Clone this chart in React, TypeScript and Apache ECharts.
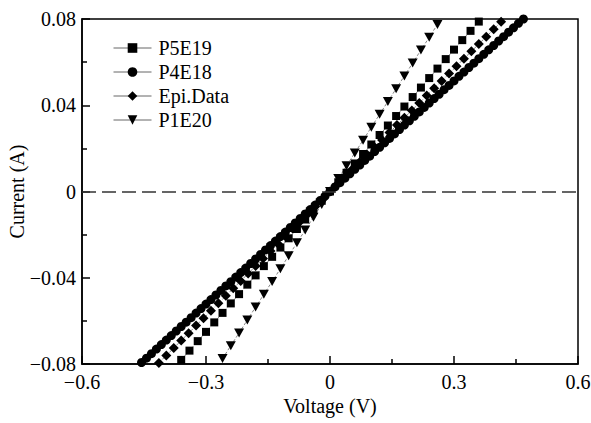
import { useEffect, useRef } from 'react';
import * as echarts from 'echarts';

const seriesNames = ['P5E19', 'P4E18', 'Epi.Data', 'P1E20'];

const xTicks = [-0.6, -0.3, 0, 0.3, 0.6];
const yTicks = [-0.08, -0.04, 0, 0.04, 0.08];

const p5e19V = [-0.36, -0.34, -0.32, -0.3, -0.28, -0.26, -0.24, -0.22, -0.2, -0.18, -0.16, -0.14, -0.12, -0.1, -0.08, -0.06, -0.04, -0.02, 0, 0.02, 0.04, 0.06, 0.08, 0.1, 0.12, 0.14, 0.16, 0.18, 0.2, 0.22, 0.24, 0.26, 0.28, 0.3, 0.32, 0.34, 0.36];
const p5e19I = [-0.0781, -0.0738, -0.0694, -0.0651, -0.0607, -0.0563, -0.0519, -0.0476, -0.0432, -0.0389, -0.0346, -0.0303, -0.026, -0.0217, -0.0174, -0.013, -0.0087, -0.0043, 0, 0.0043, 0.0087, 0.013, 0.0174, 0.0218, 0.0262, 0.0306, 0.035, 0.0394, 0.0438, 0.0482, 0.0526, 0.057, 0.0614, 0.0658, 0.0702, 0.0745, 0.0788];

const p4e18V = [-0.456, -0.444, -0.432, -0.42, -0.408, -0.396, -0.384, -0.372, -0.36, -0.348, -0.336, -0.324, -0.312, -0.3, -0.288, -0.276, -0.264, -0.252, -0.24, -0.228, -0.216, -0.204, -0.192, -0.18, -0.168, -0.156, -0.144, -0.132, -0.12, -0.108, -0.096, -0.084, -0.072, -0.06, -0.048, -0.036, -0.024, -0.012, 0, 0.012, 0.024, 0.036, 0.048, 0.06, 0.072, 0.084, 0.096, 0.108, 0.12, 0.132, 0.144, 0.156, 0.168, 0.18, 0.192, 0.204, 0.216, 0.228, 0.24, 0.252, 0.264, 0.276, 0.288, 0.3, 0.312, 0.324, 0.336, 0.348, 0.36, 0.372, 0.384, 0.396, 0.408, 0.42, 0.432, 0.444, 0.456, 0.468];
const p4e18I = [-0.0793, -0.0773, -0.0752, -0.0731, -0.071, -0.0689, -0.0668, -0.0647, -0.0626, -0.0606, -0.0585, -0.0564, -0.0543, -0.0522, -0.0501, -0.048, -0.0459, -0.0438, -0.0418, -0.0397, -0.0376, -0.0355, -0.0334, -0.0313, -0.0292, -0.0271, -0.0251, -0.023, -0.0209, -0.0188, -0.0167, -0.0146, -0.0125, -0.0104, -0.0084, -0.0063, -0.0042, -0.0021, 0, 0.0021, 0.0041, 0.0062, 0.0082, 0.0103, 0.0123, 0.0144, 0.0164, 0.0185, 0.0205, 0.0226, 0.0246, 0.0267, 0.0287, 0.0308, 0.0328, 0.0349, 0.0369, 0.039, 0.041, 0.0431, 0.0451, 0.0472, 0.0492, 0.0513, 0.0534, 0.0554, 0.0575, 0.0595, 0.0616, 0.0636, 0.0657, 0.0677, 0.0698, 0.0718, 0.0739, 0.0759, 0.078, 0.08];

const epiV = [-0.414, -0.396, -0.378, -0.36, -0.342, -0.324, -0.306, -0.288, -0.27, -0.252, -0.234, -0.216, -0.198, -0.18, -0.162, -0.144, -0.126, -0.108, -0.09, -0.072, -0.054, -0.036, -0.018, 0, 0.018, 0.036, 0.054, 0.072, 0.09, 0.108, 0.126, 0.144, 0.162, 0.18, 0.198, 0.216, 0.234, 0.252, 0.27, 0.288, 0.306, 0.324, 0.342, 0.36, 0.378, 0.396, 0.414];
const epiI = [-0.0795, -0.076, -0.0726, -0.0691, -0.0657, -0.0622, -0.0588, -0.0553, -0.0518, -0.0484, -0.0449, -0.0415, -0.038, -0.0346, -0.0311, -0.0276, -0.0242, -0.0207, -0.0173, -0.0138, -0.0104, -0.0069, -0.0035, 0, 0.0034, 0.0068, 0.0103, 0.0137, 0.0171, 0.0205, 0.0239, 0.0274, 0.0308, 0.0342, 0.0376, 0.041, 0.0445, 0.0479, 0.0513, 0.0547, 0.0581, 0.0616, 0.065, 0.0684, 0.0718, 0.0752, 0.0787];

const p1e20V = [-0.26, -0.24, -0.22, -0.2, -0.18, -0.16, -0.14, -0.12, -0.1, -0.08, -0.06, -0.04, -0.02, 0, 0.02, 0.04, 0.06, 0.08, 0.1, 0.12, 0.14, 0.16, 0.18, 0.2, 0.22, 0.24, 0.26];
const p1e20I = [-0.0775, -0.0715, -0.0656, -0.0596, -0.0536, -0.0477, -0.0417, -0.0358, -0.0298, -0.0238, -0.0179, -0.0119, -0.006, 0, 0.006, 0.0119, 0.0179, 0.0238, 0.0298, 0.0358, 0.0417, 0.0477, 0.0536, 0.0596, 0.0656, 0.0715, 0.0775];

const zip = (xs: number[], ys: number[]) => xs.map((x, i) => [x, ys[i]]);

const FONT = "'Liberation Serif', 'Times New Roman', serif";

const fmt = (digits: number) => (v: number) => {
  if (Math.abs(v) < 1e-9) return '0';
  return (v < 0 ? '\u2212' : '') + Math.abs(v).toFixed(digits);
};

export default function App() {
  const ref = useRef<HTMLDivElement>(null);
  useEffect(() => {
    const chart = echarts.init(ref.current!, null, { renderer: 'svg' });
    const common = {
      type: 'line',
      clip: true,
      lineStyle: { color: '#666', width: 0.8, type: [3, 2] },
      itemStyle: { color: '#000' },
      emphasis: { disabled: true },
    };
    chart.setOption({
      animation: false,
      backgroundColor: '#fff',
      grid: {
        left: 82,
        right: 13,
        top: 19,
        bottom: 59,
        containLabel: false,
        outerBoundsMode: 'none',
        show: true,
        borderColor: '#000',
        borderWidth: 1.5,
        backgroundColor: 'transparent',
      },
      legend: {
        orient: 'vertical',
        left: 108,
        top: 33,
        itemWidth: 38,
        itemHeight: 12,
        itemGap: 4,
        data: seriesNames,
        lineStyle: { type: 'solid', width: 1 },
        textStyle: { fontFamily: FONT, fontSize: 20, color: '#000', padding: [0, 0, 0, 2] },
      },
      xAxis: {
        type: 'value',
        min: xTicks[0],
        max: xTicks[xTicks.length - 1],
        interval: 0.3,
        name: 'Voltage (V)',
        nameLocation: 'middle',
        nameGap: 32,
        nameMoveOverlap: false,
        nameTextStyle: { fontFamily: FONT, fontSize: 20, color: '#000' },
        axisLine: { onZero: false, lineStyle: { color: '#000', width: 1.5 } },
        axisTick: { inside: true, length: 8, lineStyle: { color: '#000', width: 1.5 } },
        minorTick: { show: true, splitNumber: 2, length: 5, lineStyle: { color: '#000', width: 1.5 } },
        splitLine: { show: false },
        axisLabel: { fontFamily: FONT, fontSize: 20, color: '#000', margin: 8, formatter: fmt(1) },
      },
      yAxis: {
        type: 'value',
        min: yTicks[0],
        max: yTicks[yTicks.length - 1],
        interval: 0.04,
        name: 'Current (A)',
        nameLocation: 'middle',
        nameGap: 55,
        nameMoveOverlap: false,
        nameTextStyle: { fontFamily: FONT, fontSize: 20, color: '#000' },
        axisLine: { onZero: false, lineStyle: { color: '#000', width: 1.5 } },
        axisTick: { inside: true, length: 8, lineStyle: { color: '#000', width: 1.5 } },
        minorTick: { show: true, splitNumber: 2, length: 5, lineStyle: { color: '#000', width: 1.5 } },
        splitLine: { show: false },
        axisLabel: { fontFamily: FONT, fontSize: 20, color: '#000', margin: 6, formatter: fmt(2) },
      },
      series: [
        {
          ...common,
          name: seriesNames[0],
          symbol: 'rect',
          symbolSize: 8,
          data: zip(p5e19V, p5e19I),
          markLine: {
            silent: true,
            symbol: ['none', 'none'],
            label: { show: false },
            lineStyle: { color: '#333', width: 1.5, type: [14, 6] },
            data: [{ yAxis: 0 }],
          },
        },
        {
          ...common,
          name: seriesNames[1],
          symbol: 'circle',
          symbolSize: 9,
          data: zip(p4e18V, p4e18I),
        },
        {
          ...common,
          name: seriesNames[2],
          symbol: 'diamond',
          symbolSize: 10,
          data: zip(epiV, epiI),
        },
        {
          ...common,
          name: seriesNames[3],
          symbol: 'triangle',
          symbolRotate: 180,
          symbolSize: [10, 9],
          data: zip(p1e20V, p1e20I),
        },
      ],
    });
    return () => chart.dispose();
  }, []);
  return <div ref={ref} style={{ position: 'fixed', left: 0, top: 0, width: 591, height: 423 }} />;
}
